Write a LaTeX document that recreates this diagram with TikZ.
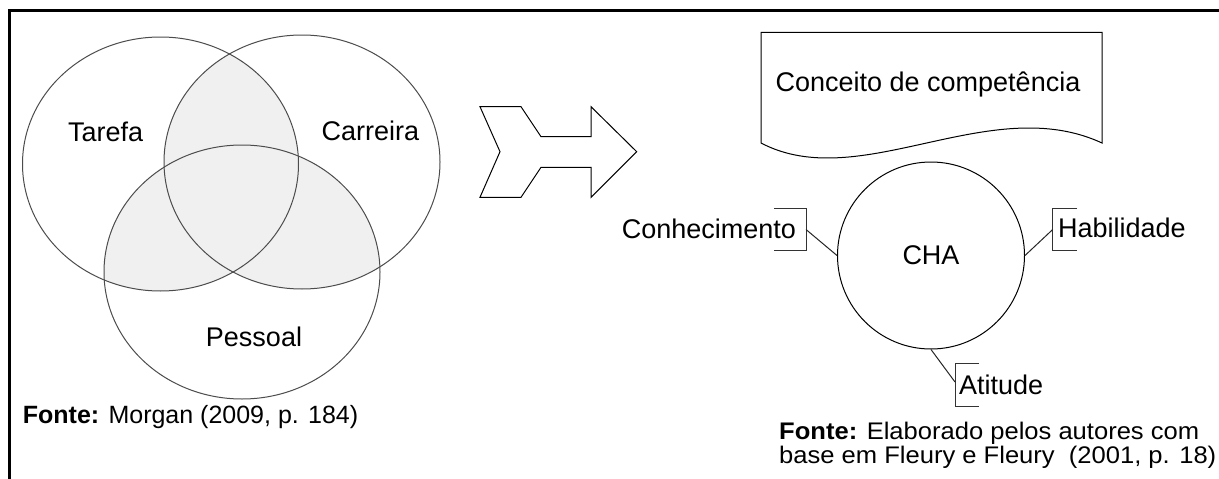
\documentclass[tikz,border=0pt]{standalone}
\usepackage{fontspec}
\setmainfont{Liberation Sans}
\newfontfamily\srcwide[FakeStretch=1.065]{Liberation Sans}
\begin{document}
\begin{tikzpicture}[x=1pt,y=-1pt,
  lbl/.style={inner sep=0pt,font=\fontsize{27}{32}\selectfont},
  src/.style={inner sep=0pt,font=\fontsize{25}{22}\selectfont},
  srcnarrow/.style={inner sep=0pt,font=\srcwide\fontsize{24}{22}\selectfont},
  venn/.style={draw=black!70,line width=1pt},
  shade/.style={fill=black!6},
  shapeline/.style={draw=black,line width=1pt,line join=miter},
  bracket/.style={draw=black!80,line width=1pt},
  link/.style={draw=black!85,line width=1pt}]
\useasboundingbox (0,0) rectangle (1219,479);
\fill[white] (0,0) rectangle (1219,479);

% frame: top and left rules
\draw[line width=3pt] (1219,10.5) -- (9.5,10.5) -- (9.5,479);

% ---- Venn diagram ----
\def\rx{138}\def\ry{127}
\begin{scope}
  \clip (160.5,164) ellipse [x radius=\rx,y radius=\ry];
  \fill[shade] (302,162) ellipse [x radius=\rx,y radius=\ry];
  \fill[shade] (242,272) ellipse [x radius=\rx,y radius=\ry];
\end{scope}
\begin{scope}
  \clip (302,162) ellipse [x radius=\rx,y radius=\ry];
  \fill[shade] (242,272) ellipse [x radius=\rx,y radius=\ry];
\end{scope}
\draw[venn] (160.5,164) ellipse [x radius=\rx,y radius=\ry];
\draw[venn] (302,162) ellipse [x radius=\rx,y radius=\ry];
\draw[venn] (242,272) ellipse [x radius=\rx,y radius=\ry];

\node[lbl,anchor=base] (tarefa) at (105.7,141.7) {Tarefa};
\node[lbl,anchor=base] (carreira) at (370.5,140) {Carreira};
\node[lbl,anchor=base] (pessoal) at (254,346.7) {Pessoal};

\node[src,anchor=base west] (fonte1) at (22.7,423) {\textbf{Fonte:} Morgan (2009, p. 184)};

% ---- notched arrow ----
\draw[shapeline] (480,106.7) -- (521,106.7) -- (541,136.7) -- (591,136.7)
  -- (591,106.7) -- (636.7,151.7) -- (591,197.3) -- (591,167.3)
  -- (541,167.3) -- (521,197.3) -- (480,197.3) -- (500,151.7) -- cycle;

% ---- document shape ----
\draw[shapeline] (761,143) -- (761,32.3) -- (1102,32.3) -- (1102,143)
  .. controls (990,91) and (860,195) .. (761,143) -- cycle;
\node[lbl,anchor=base] (conceito) at (928,91.7) {Conceito de competência};

% ---- CHA circle with callouts ----
\node[circle,draw=black,line width=1pt,minimum size=187pt,inner sep=0pt,
      font=\fontsize{27}{32}\selectfont] (cha) at (931,255.5) {CHA};

\node[lbl,anchor=base west] (conh) at (621.7,238) {Conhecimento};
\draw[bracket] (774,208.3) -| (806,250) -- (774,250);
\coordinate (conhb) at (806,229.5);
\draw[link] (cha.west) -- (conhb);

\node[lbl,anchor=base west] (hab) at (1058,237.3) {Habilidade};
\draw[bracket] (1077,208.3) -| (1052.7,250) -- (1077,250);
\coordinate (habb) at (1052.7,229.5);
\draw[link] (cha.east) -- (habb);

\node[lbl,anchor=base west] (ati) at (959,394) {Atitude};
\draw[bracket] (979,363.3) -| (955,406) -- (979,406);
\coordinate (atib) at (955,382);
\draw[link] (cha.south) -- (atib);

\node[srcnarrow,anchor=base west] (fonte2a) at (779,439) {\textbf{Fonte:} Elaborado pelos autores com};
\node[srcnarrow,anchor=base west] (fonte2b) at (779,463) {base em Fleury e Fleury\ \ (2001, p. 18)};
\end{tikzpicture}
\end{document}
